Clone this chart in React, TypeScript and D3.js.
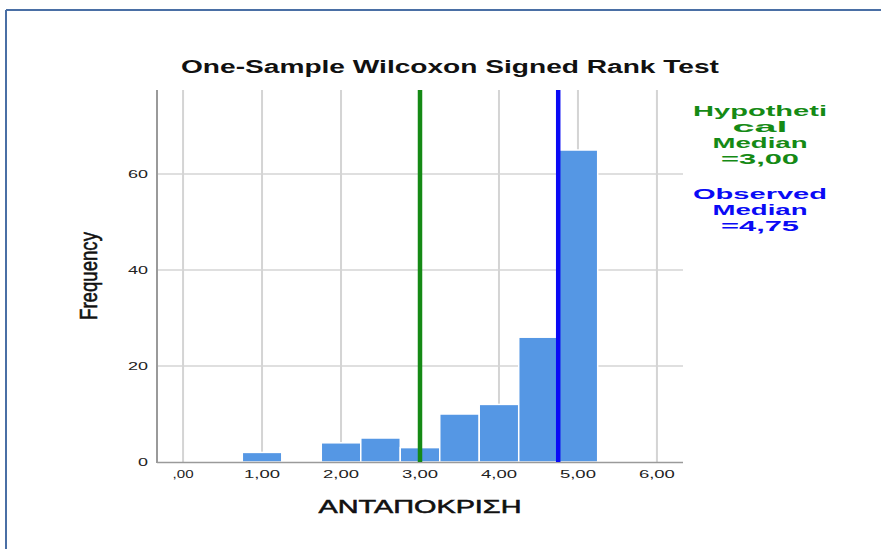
import React from "react";
import * as d3 from "d3";

const binCenters = [1.0, 2.0, 2.5, 3.0, 3.5, 4.0, 4.5, 5.0];
const binCounts = [2, 4, 5, 3, 10, 12, 26, 65];
const binWidth = 0.5;
const xTicks = [0, 1, 2, 3, 4, 5, 6];
const xTickLabels = [",00", "1,00", "2,00", "3,00", "4,00", "5,00", "6,00"];
const yTicks = [0, 20, 40, 60];
const hypotheticalMedian = 3.0;
const observedMedian = 4.75;
const hypoLines = ["Hypotheti", "cal", "Median", "=3,00"];
const obsLines = ["Observed", "Median", "=4,75"];

const W = 881;
const H = 549;

export default function App() {
  const x = d3.scaleLinear().domain([-0.33, 6.33]).range([157, 683]);
  const y = d3.scaleLinear().domain([0, 77.5]).range([462, 90]);
  const font = "'Liberation Sans', Arial, Helvetica, sans-serif";
  const hypoW = [134, 55, 95, 78];
  const obsW = [134, 95, 78];
  const hypoY = [116, 132, 148, 164];
  const obsY = [199, 215, 231];

  return (
    <svg width={W} height={H} style={{ position: "absolute", left: 0, top: 0, background: "#fff" }} fontFamily={font}>
      <rect x={0} y={0} width={W} height={H} fill="#fff" />
      {/* frame */}
      <line x1={6} y1={10} x2={W} y2={10} stroke="#4a6fa5" strokeWidth={2} />
      <line x1={6} y1={10} x2={6} y2={H} stroke="#4a6fa5" strokeWidth={2} />

      {/* title */}
      <text x={450} y={73} textAnchor="middle" fontSize={18} fontWeight="bold" fill="#111"
        textLength={538} lengthAdjust="spacingAndGlyphs">One-Sample Wilcoxon Signed Rank Test</text>

      {/* vertical grid */}
      {xTicks.map((t) => (
        <line key={"vg" + t} x1={x(t)} x2={x(t)} y1={90} y2={462} stroke="#d4d4d4" strokeWidth={2} />
      ))}
      {/* horizontal grid */}
      {yTicks.filter((t) => t > 0).map((t) => (
        <line key={"hg" + t} x1={157} x2={683} y1={y(t)} y2={y(t)} stroke="#d4d4d4" strokeWidth={1.5} />
      ))}

      {/* bars */}
      {binCenters.map((c, i) => (
        <rect key={"b" + i}
          x={x(c - binWidth / 2)} y={y(binCounts[i])}
          width={x(c + binWidth / 2) - x(c - binWidth / 2)}
          height={y(0) - y(binCounts[i])}
          fill="#5597e4" stroke="#ffffff" strokeWidth={1.5} />
      ))}

      {/* axes */}
      <line x1={157} x2={683} y1={462.5} y2={462.5} stroke="#9a9a9a" strokeWidth={1.5} />
      <line x1={157} x2={157} y1={90} y2={463} stroke="#9a9a9a" strokeWidth={2} />

      {/* median lines */}
      <line x1={x(hypotheticalMedian)} x2={x(hypotheticalMedian)} y1={90} y2={462} stroke="#158a15" strokeWidth={4.5} />
      <line x1={x(observedMedian)} x2={x(observedMedian)} y1={90} y2={462} stroke="#0a0af5" strokeWidth={4.5} />

      {/* y ticks */}
      {yTicks.map((t) => (
        <text key={"yt" + t} x={148} y={y(t) + 4} textAnchor="end" fontSize={11} fill="#222"
          textLength={t === 0 ? 10 : 20} lengthAdjust="spacingAndGlyphs">{t}</text>
      ))}
      {/* x ticks */}
      {xTicks.map((t, i) => (
        <text key={"xt" + t} x={x(t)} y={478} textAnchor="middle" fontSize={11} fill="#222"
          textLength={i === 0 ? 21 : 36} lengthAdjust="spacingAndGlyphs">{xTickLabels[i]}</text>
      ))}

      {/* axis titles */}
      <text x={420} y={513} textAnchor="middle" fontSize={18} fill="#111" stroke="#111" strokeWidth={0.5}
        textLength={203} lengthAdjust="spacingAndGlyphs">ΑΝΤΑΠΟΚΡΙΣΗ</text>
      <text transform="translate(97,276) rotate(-90)" textAnchor="middle" fontSize={24} fill="#111" stroke="#111" strokeWidth={0.6}
        textLength={88} lengthAdjust="spacingAndGlyphs">Frequency</text>

      {/* legend */}
      {hypoLines.map((s, i) => (
        <text key={"h" + i} x={760} y={hypoY[i]} textAnchor="middle" fontSize={15} fontWeight="bold" fill="#158a15"
          textLength={hypoW[i]} lengthAdjust="spacingAndGlyphs">{s}</text>
      ))}
      {obsLines.map((s, i) => (
        <text key={"o" + i} x={760} y={obsY[i]} textAnchor="middle" fontSize={15} fontWeight="bold" fill="#0a0af5"
          textLength={obsW[i]} lengthAdjust="spacingAndGlyphs">{s}</text>
      ))}
    </svg>
  );
}
